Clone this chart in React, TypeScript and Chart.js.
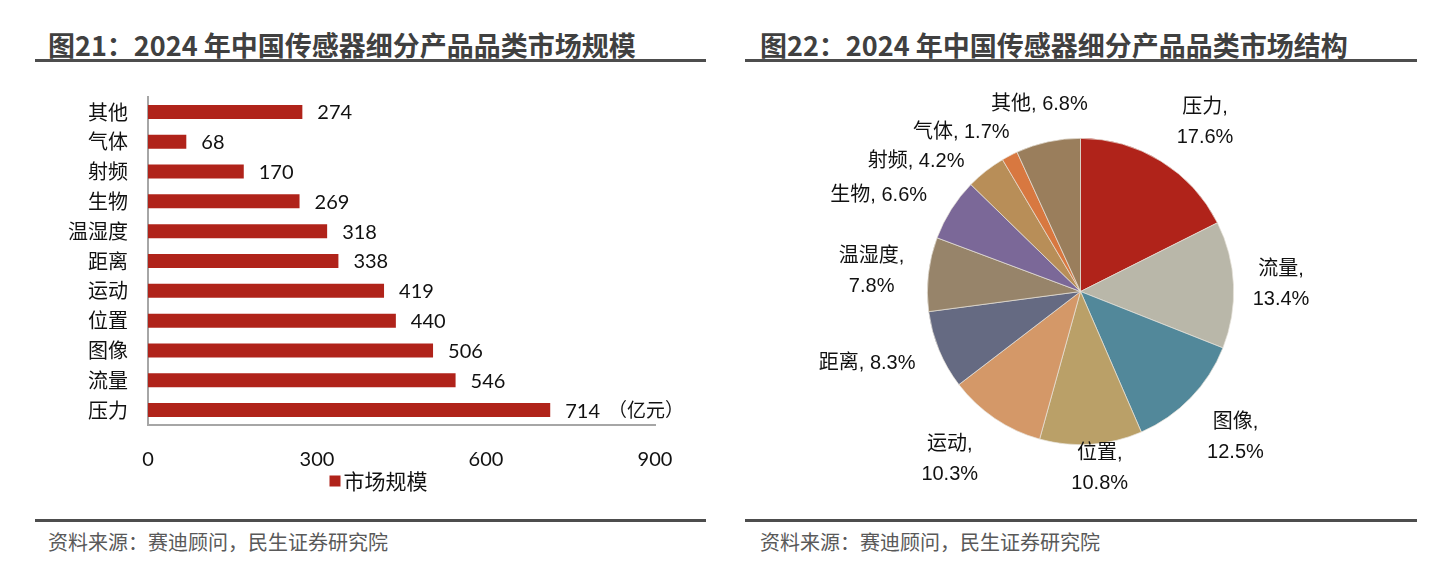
import React, { useEffect, useRef } from 'react';
import { Chart, registerables } from 'chart.js';

Chart.register(...registerables);

// ---------- data ----------
const barCategories = ['其他', '气体', '射频', '生物', '温湿度', '距离', '运动', '位置', '图像', '流量', '压力'];
const barValues = [274, 68, 170, 269, 318, 338, 419, 440, 506, 546, 714];
const barSeriesName = '市场规模';
const barUnit = '（亿元）';
const xTickValues = [0, 300, 600, 900];

const pieCategories = ['压力', '流量', '图像', '位置', '运动', '距离', '温湿度', '生物', '射频', '气体', '其他'];
const pieValues = [17.6, 13.4, 12.5, 10.8, 10.3, 8.3, 7.8, 6.6, 4.2, 1.7, 6.8];

const leftTitle = '图21：2024 年中国传感器细分产品品类市场规模';
const rightTitle = '图22：2024 年中国传感器细分产品品类市场结构';
const sourceText = '资料来源：赛迪顾问，民生证券研究院';

// ---------- styles ----------
const BAR_COLOR = '#B0231A';
const pieColors = ['#B0231A', '#B9B7A9', '#52889A', '#BAA068', '#D49868', '#656A82', '#97846A', '#7B6898', '#B88E58', '#D87840', '#9A7E5C'];
// label layout: angle (deg, clockwise from top), distance in radii, two lines?
const pieLabelAngle = [36.4, 88.1, 133.3, 173.8, 217.9, 251.4, 275.5, 295.5, 308.4, 323.2, 347.6];
const pieLabelDist = [1.37, 1.31, 1.39, 1.16, 1.39, 1.47, 1.37, 1.46, 1.37, 1.3, 1.25];
const pieLabelTwoLine = [true, true, true, true, true, false, true, false, false, false, false];

const CJK = '"Noto Sans CJK SC"';
const NUM_FONT = '20px Lato, ' + CJK;
const PIE_FONT = '20px "Liberation Sans", ' + CJK;

function BarChart() {
  const ref = useRef<HTMLCanvasElement | null>(null);
  useEffect(() => {
    const valueLabels = {
      id: 'valueLabels',
      afterDatasetsDraw(chart: any) {
        const ctx = chart.ctx;
        const meta = chart.getDatasetMeta(0);
        ctx.save();
        ctx.textBaseline = 'middle';
        ctx.textAlign = 'left';
        meta.data.forEach((bar: any, i: number) => {
          ctx.font = NUM_FONT;
          ctx.fillStyle = '#111';
          const txt = String(barValues[i]);
          const x = bar.x + 15;
          ctx.fillText(txt, x, bar.y + 1);
          if (i === barValues.length - 1) {
            const w = ctx.measureText(txt).width;
            ctx.font = '19px ' + CJK;
            ctx.fillText(barUnit, x + w + 8, bar.y);
          }
        });
        // legend
        const ca = chart.chartArea;
        ctx.font = '21px ' + CJK;
        const tw = ctx.measureText(barSeriesName).width;
        const box = 11;
        const total = box + 3 + tw;
        const cx = chart.width / 2 + 8;
        const ly = ca.bottom + 56;
        const lx = cx - total / 2;
        ctx.fillStyle = BAR_COLOR;
        ctx.fillRect(lx, ly - box / 2, box, box);
        ctx.fillStyle = '#111';
        ctx.fillText(barSeriesName, lx + box + 3, ly);
        ctx.restore();
      },
    };
    const chart = new Chart(ref.current as HTMLCanvasElement, {
      type: 'bar',
      data: {
        labels: barCategories,
        datasets: [
          {
            label: barSeriesName,
            data: barValues,
            backgroundColor: BAR_COLOR,
            categoryPercentage: 0.47,
            barPercentage: 1,
          },
        ],
      },
      options: {
        indexAxis: 'y',
        animation: false,
        responsive: false,
        devicePixelRatio: 1,
        layout: { padding: { top: 12, right: 51, left: 0, bottom: 0 } },
        plugins: { legend: { display: false }, tooltip: { enabled: false } },
        scales: {
          x: {
            min: 0,
            max: 900,
            afterBuildTicks: (s: any) => {
              s.ticks = xTickValues.map((v) => ({ value: v }));
            },
            afterFit: (s: any) => {
              s.height = 85;
            },
            grid: { display: false, drawTicks: false },
            border: { display: true, color: '#A6A6A6', width: 2 },
            ticks: { padding: 23, color: '#111', font: { family: 'Lato', size: 20 } },
          },
          y: {
            afterFit: (s: any) => {
              s.width = 113;
              s.paddingTop = 0;
              s.paddingBottom = 0;
            },
            grid: { display: false, drawTicks: false },
            border: { display: true, color: '#A6A6A6', width: 2 },
            ticks: { padding: 20, color: '#111', autoSkip: false, font: { family: 'Noto Sans CJK SC', size: 20 } },
          },
        },
      },
      plugins: [valueLabels],
    } as any);
    return () => chart.destroy();
  }, []);
  return <canvas ref={ref} width={671} height={425} style={{ position: 'absolute', left: 35, top: 85 }} />;
}

function PieChart() {
  const ref = useRef<HTMLCanvasElement | null>(null);
  useEffect(() => {
    const pieLabels = {
      id: 'pieLabels',
      afterDatasetsDraw(chart: any) {
        const ctx = chart.ctx;
        const meta = chart.getDatasetMeta(0);
        const arc0 = meta.data[0];
        const cx = arc0.x;
        const cy = arc0.y;
        const r = arc0.outerRadius;
        ctx.save();
        ctx.fillStyle = '#111';
        ctx.textAlign = 'center';
        ctx.textBaseline = 'middle';
        ctx.font = PIE_FONT;
        pieCategories.forEach((name, i) => {
          const a = (pieLabelAngle[i] * Math.PI) / 180;
          const x = cx + Math.sin(a) * r * pieLabelDist[i];
          const y = cy - Math.cos(a) * r * pieLabelDist[i];
          const pct = pieValues[i].toFixed(1) + '%';
          if (pieLabelTwoLine[i]) {
            ctx.fillText(name + ',', x, y - 15);
            ctx.fillText(pct, x, y + 15);
          } else {
            ctx.fillText(name + ', ' + pct, x, y);
          }
        });
        ctx.restore();
      },
    };
    const chart = new Chart(ref.current as HTMLCanvasElement, {
      type: 'pie',
      data: {
        labels: pieCategories,
        datasets: [
          {
            data: pieValues,
            backgroundColor: pieColors,
            borderColor: '#E6E2DA',
            borderWidth: 0.7,
          },
        ],
      },
      options: {
        animation: false,
        responsive: false,
        devicePixelRatio: 1,
        layout: { padding: { left: 182, right: 183, top: 58, bottom: 65 } },
        plugins: { legend: { display: false }, tooltip: { enabled: false } },
      },
      plugins: [pieLabels],
    } as any);
    return () => chart.destroy();
  }, []);
  return <canvas ref={ref} width={672} height={430} style={{ position: 'absolute', left: 745, top: 80 }} />;
}

const titleStyle: React.CSSProperties = {
  position: 'absolute',
  top: 29,
  fontFamily: CJK,
  fontWeight: 700,
  fontSize: 27,
  lineHeight: '32px',
  color: '#404040',
  whiteSpace: 'nowrap',
};
const sourceStyle: React.CSSProperties = {
  position: 'absolute',
  top: 528,
  fontFamily: CJK,
  fontSize: 20,
  lineHeight: '28px',
  color: '#595959',
  whiteSpace: 'nowrap',
};
const lineStyle = (left: number, top: number, width: number): React.CSSProperties => ({
  position: 'absolute',
  left,
  top,
  width,
  height: 3,
  background: '#4D4D4D',
});

export default function App() {
  return (
    <div style={{ position: 'absolute', left: 0, top: 0, width: 1430, height: 574, background: '#fff', overflow: 'hidden' }}>
      <div style={{ ...titleStyle, left: 48 }}>{leftTitle}</div>
      <div style={{ ...titleStyle, left: 760 }}>{rightTitle}</div>
      <div style={lineStyle(35, 59, 671)} />
      <div style={lineStyle(745, 59, 672)} />
      <BarChart />
      <PieChart />
      <div style={lineStyle(35, 519, 671)} />
      <div style={lineStyle(745, 519, 672)} />
      <div style={{ ...sourceStyle, left: 48 }}>{sourceText}</div>
      <div style={{ ...sourceStyle, left: 760 }}>{sourceText}</div>
    </div>
  );
}
